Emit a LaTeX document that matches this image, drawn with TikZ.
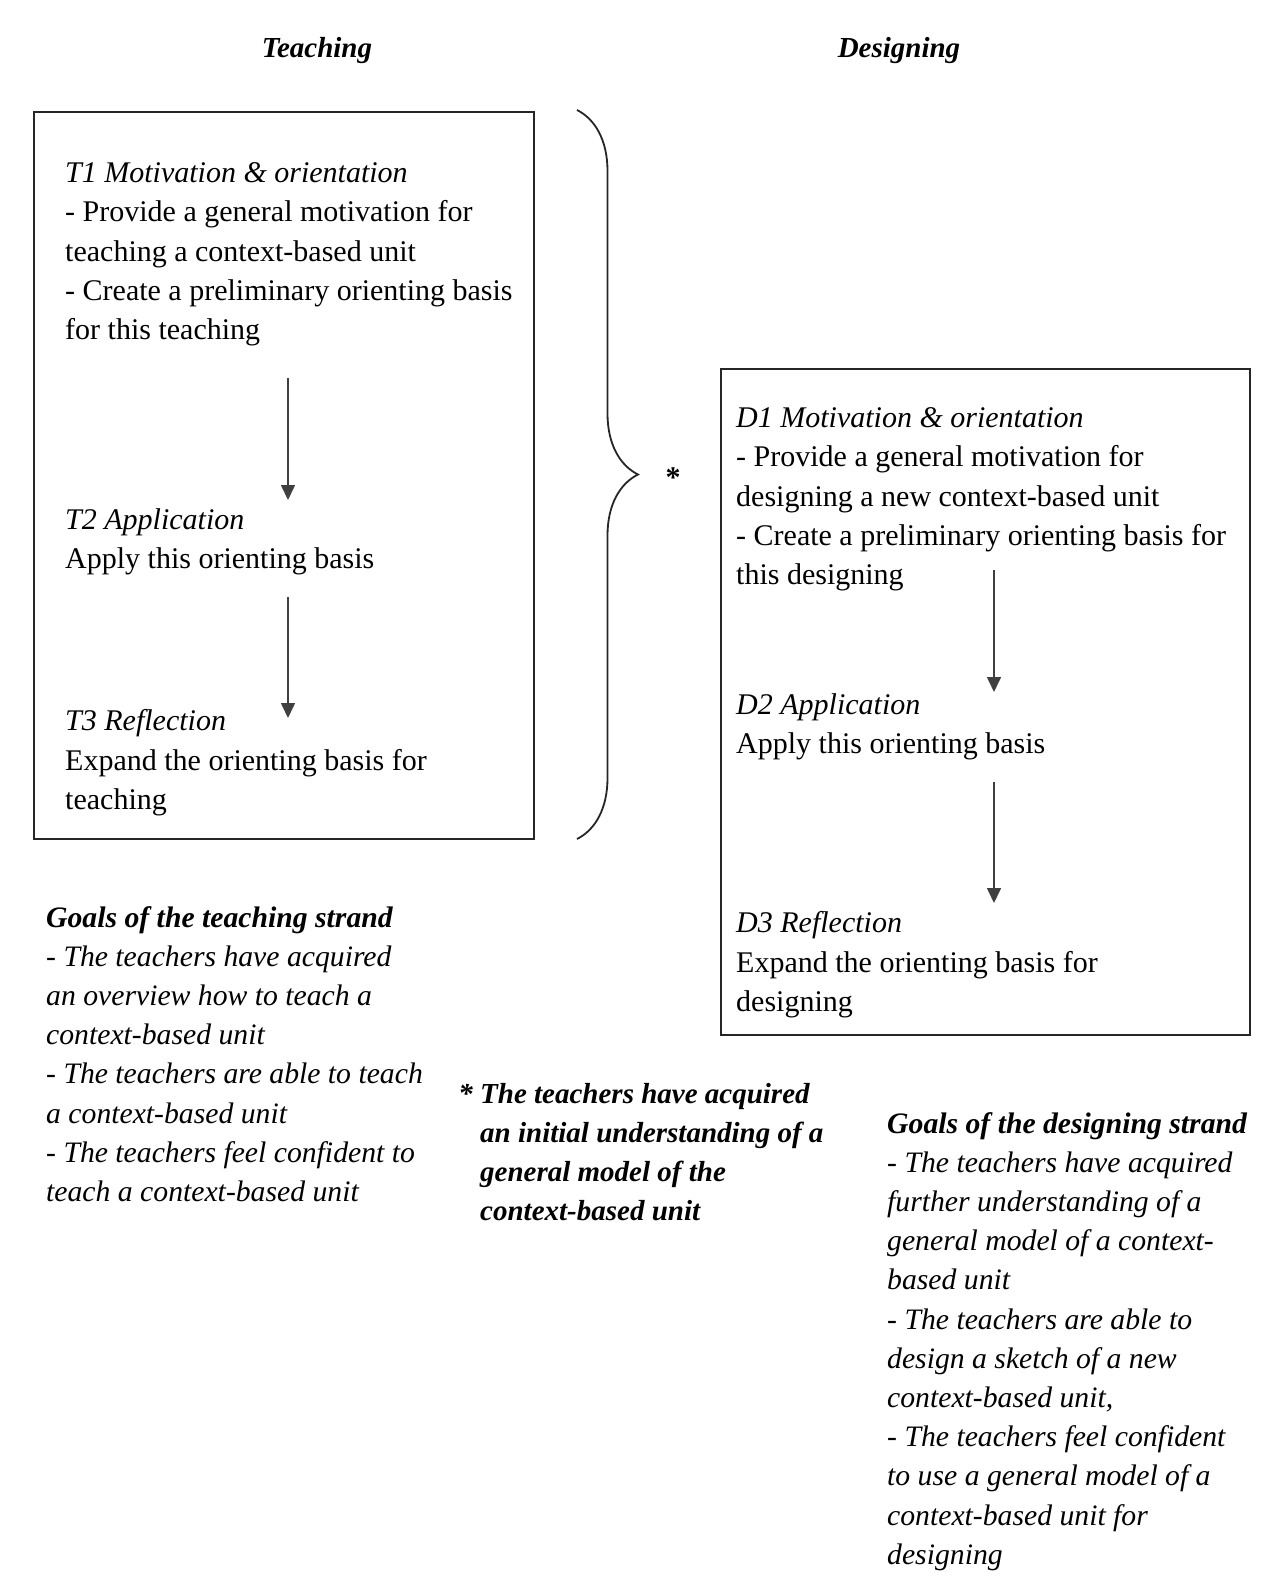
\documentclass[tikz,border=0pt]{standalone}
\usepackage{fontspec}
\setmainfont{Liberation Serif}
\usetikzlibrary{arrows.meta,decorations.pathreplacing}

\tikzset{
  txt/.style={anchor=north west, inner sep=0pt, align=left,
    font=\fontsize{30}{39.3}\selectfont},
  goal/.style={txt, font=\fontsize{29.7}{39.2}\selectfont\itshape},
  head/.style={anchor=base, inner sep=0pt, font=\fontsize{29}{34}\selectfont\bfseries\itshape},
  frame/.style={draw=black!85, line width=2pt},
  flow/.style={draw=black!75, line width=1.6pt, -{Triangle[length=15pt,width=14pt]}},
}

\begin{document}
\begin{tikzpicture}[x=1pt,y=-1pt]
  \useasboundingbox (0,0) rectangle (1266,1596);

  % column titles
  \node[head] (teach) at (317,57) {Teaching};
  \node[head] (design) at (899,57) {Designing};

  % teaching strand
  \draw[frame] (34,112) rectangle (534,839);
  \node[txt] (t1) at (65,162.5) {\textit{T1 Motivation \& orientation}\\
    - Provide a general motivation for\\
    teaching a context-based unit\\
    - Create a preliminary orienting basis\\
    for this teaching};
  \node[txt] (t2) at (65,508.5) {\textit{T2 Application}\\
    Apply this orienting basis};
  \node[txt] (t3) at (65,709.5) {\textit{T3 Reflection}\\
    Expand the orienting basis for\\
    teaching};
  \coordinate (tax) at (288,0);
  \draw[flow] ([yshift=-31pt]t1.south -| tax) -- ([yshift=8.5pt]t2.north -| tax);
  \draw[flow] ([yshift=-22pt]t2.south -| tax) -- ([yshift=-8.5pt]t3.north -| tax);

  % brace and star
  \draw[decorate, decoration={brace, amplitude=61pt}, draw=black!85, line width=1.8pt]
    (577,110) -- (577,839);
  \node[inner sep=0pt, font=\fontsize{30}{30}\selectfont\bfseries] (star) at (673,478) {*};

  % designing strand
  \draw[frame] (721,369) rectangle (1250,1035);
  \node[txt] (d1) at (736,407.5) {\textit{D1 Motivation \& orientation}\\
    - Provide a general motivation for\\
    designing a new context-based unit\\
    - Create a preliminary orienting basis for\\
    this designing};
  \node[txt] (d2) at (736,693.5) {\textit{D2 Application}\\
    Apply this orienting basis};
  \node[txt] (d3) at (736,911.5) {\textit{D3 Reflection}\\
    Expand the orienting basis for\\
    designing};
  \coordinate (dax) at (994,0);
  \draw[flow] ([yshift=21.5pt]d1.south -| dax) -- ([yshift=1.5pt]d2.north -| dax);
  \draw[flow] ([yshift=-21pt]d2.south -| dax) -- ([yshift=8.5pt]d3.north -| dax);

  % goals
  \node[goal] (gt) at (46,906) {\textbf{Goals of the teaching strand}\\
    - The teachers have acquired\\
    an overview how to teach a\\
    context-based unit\\
    - The teachers are able to teach\\
    a context-based unit\\
    - The teachers feel confident to\\
    teach a context-based unit};
  \node[goal, font=\fontsize{29}{39.1}\selectfont\bfseries\itshape] (note) at (480,1083)
    {\llap{* }The teachers have acquired\\
    an initial understanding of a\\
    general model of the\\
    context-based unit};
  \node[goal] (gd) at (887,1112) {\textbf{Goals of the designing strand}\\
    - The teachers have acquired\\
    further understanding of a\\
    general model of a context-\\
    based unit\\
    - The teachers are able to\\
    design a sketch of a new\\
    context-based unit,\\
    - The teachers feel confident\\
    to use a general model of a\\
    context-based unit for\\
    designing};
\end{tikzpicture}
\end{document}
